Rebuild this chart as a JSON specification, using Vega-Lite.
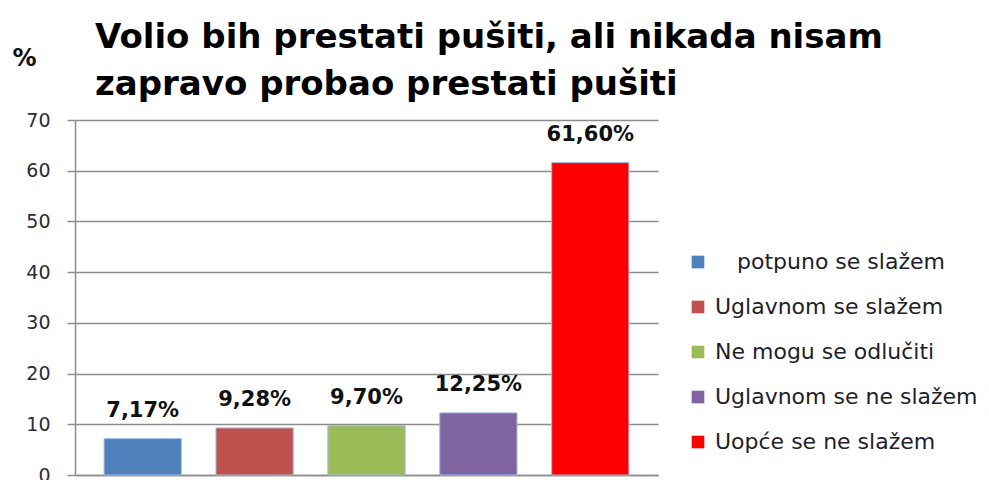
{
  "$schema": "https://vega.github.io/schema/vega-lite/v6.json",
  "autosize": "none",
  "width": 583,
  "height": 355,
  "padding": {"left": 75, "top": 120, "right": 331, "bottom": 5},
  "background": "white",
  "title": {
    "text": ["Volio bih prestati pušiti, ali nikada nisam", "zapravo probao prestati pušiti"],
    "anchor": "start",
    "frame": "group",
    "dx": 20,
    "offset": -56,
    "font": "DejaVu Sans",
    "fontSize": 34,
    "fontWeight": "bold",
    "color": "#000000",
    "lineHeight": 47
  },
  "data": {
    "values": [
      {"kategorija": "\u200b\u2003potpuno se slažem", "postotak": 7.17, "oznaka": "7,17%"},
      {"kategorija": "Uglavnom se slažem", "postotak": 9.28, "oznaka": "9,28%"},
      {"kategorija": "Ne mogu se odlučiti", "postotak": 9.70, "oznaka": "9,70%"},
      {"kategorija": "Uglavnom se ne slažem", "postotak": 12.25, "oznaka": "12,25%"},
      {"kategorija": "Uopće se ne slažem", "postotak": 61.60, "oznaka": "61,60%"}
    ]
  },
  "encoding": {
    "x": {
      "field": "kategorija",
      "type": "nominal",
      "sort": null,
      "scale": {"paddingInner": 0.31, "paddingOuter": 0.26},
      "axis": {"labels": false, "ticks": false, "title": null, "domainColor": "#8c8c8c", "domainWidth": 1.5}
    },
    "y": {
      "field": "postotak",
      "type": "quantitative",
      "scale": {"domain": [0, 70]},
      "axis": {
        "values": [0, 10, 20, 30, 40, 50, 60, 70],
        "title": "%",
        "titleAngle": 0,
        "titleX": -51,
        "titleY": -62,
        "titleAlign": "center",
        "titleBaseline": "middle",
        "titleFont": "DejaVu Sans",
        "titleFontSize": 24,
        "titleFontWeight": "bold",
        "titleColor": "#111111",
        "labelFont": "DejaVu Sans",
        "labelFontSize": 19,
        "labelColor": "#2b2b3a",
        "labelPadding": 17,
        "tickSize": 8,
        "tickColor": "#8c8c8c",
        "tickWidth": 1.5,
        "domainColor": "#8c8c8c",
        "domainWidth": 1.5,
        "gridColor": "#8c8c8c",
        "gridWidth": 1.5,
        "grid": true
      }
    }
  },
  "layer": [
    {
      "mark": {"type": "bar", "stroke": "#9dbbe0", "strokeWidth": 1},
      "encoding": {
        "color": {
          "field": "kategorija",
          "type": "nominal",
          "sort": null,
          "scale": {
            "domain": ["\u200b\u2003potpuno se slažem", "Uglavnom se slažem", "Ne mogu se odlučiti", "Uglavnom se ne slažem", "Uopće se ne slažem"],
            "range": ["#4F81BD", "#C0504D", "#9BBB59", "#8064A2", "#FF0000"]
          },
          "legend": {
            "title": null,
            "orient": "none",
            "legendX": 612,
            "legendY": 131,
            "symbolType": "square",
            "symbolSize": 160,
            "symbolStrokeWidth": 0,
            "labelFont": "DejaVu Sans",
            "labelFontSize": 22,
            "labelColor": "#1e1e2a",
            "labelOffset": 6,
            "rowPadding": 23,
            "labelLimit": 400
          }
        }
      }
    },
    {
      "mark": {"type": "text", "dy": -18, "baseline": "bottom", "font": "DejaVu Sans", "fontSize": 21, "fontWeight": "bold", "color": "#111111"},
      "encoding": {"text": {"field": "oznaka"}}
    }
  ],
  "config": {"view": {"stroke": null}}
}
